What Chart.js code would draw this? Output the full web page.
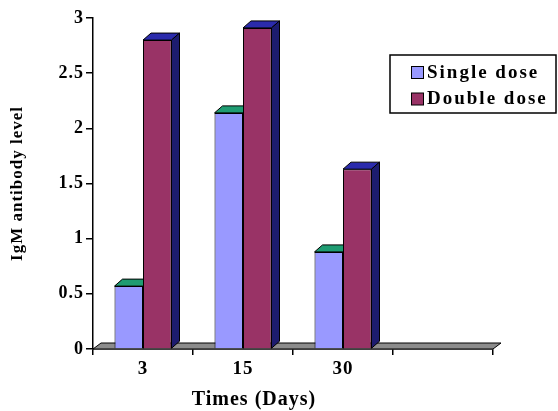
<!DOCTYPE html>
<html>
<head>
<meta charset="utf-8">
<script src="https://cdn.jsdelivr.net/npm/chart.js@4/dist/chart.umd.min.js"></script>
<style>
  html, body { margin: 0; padding: 0; background: #fff; }
  #wrap { width: 558px; height: 411px; }
</style>
</head>
<body>
<div id="wrap"><canvas id="myChart" width="558" height="411"></canvas></div>
<script>
// data
var days        = ['3', '15', '30', ''];
var singleDose  = [0.57, 2.14, 0.88, null];
var doubleDose  = [2.8, 2.91, 1.63, null];
var seriesNames = ['Single dose', 'Double dose'];
var xTitle      = 'Times (Days)';
var yTitle      = 'IgM antibody level';

var serif = '"Liberation Serif", "Times New Roman", serif';

// 3D look: offset of the back faces
var DX = 8;
var DY = -7;

var faceColors = [
    { top: '#1f9c72', side: '#6a6ad0' },
    { top: '#2b2bac', side: '#1c1c6e' }
];

function poly(ctx, pts, fill) {
    ctx.beginPath();
    ctx.moveTo(pts[0][0], pts[0][1]);
    for (var i = 1; i < pts.length; i++) ctx.lineTo(pts[i][0], pts[i][1]);
    ctx.closePath();
    ctx.fillStyle = fill;
    ctx.fill();
    ctx.stroke();
}

var depthPlugin = {
    id: 'depth',
    beforeDraw: function(chart) {
        chart.ctx.letterSpacing = '1px';
    },
    beforeDatasetsDraw: function(chart) {
        var ctx = chart.ctx;
        var area = chart.chartArea;
        ctx.save();
        ctx.strokeStyle = '#000';
        ctx.lineWidth = 1;

        // floor
        poly(ctx, [
            [area.left, area.bottom],
            [area.left + DX, area.bottom + DY + 1],
            [area.right + DX, area.bottom + DY + 1],
            [area.right, area.bottom]
        ], '#8c8c8c');

        chart.data.datasets.forEach(function(ds, i) {
            var meta = chart.getDatasetMeta(i);
            meta.data.forEach(function(bar, j) {
                if (ds.data[j] == null) return;
                var l = bar.x - bar.width / 2;
                var r = bar.x + bar.width / 2;
                var t = bar.y;
                var b = bar.base;
                poly(ctx, [[l, t], [l + DX, t + DY], [r + DX, t + DY], [r, t]], faceColors[i].top);
                poly(ctx, [[r, t], [r + DX, t + DY], [r + DX, b + DY], [r, b]], faceColors[i].side);
            });
        });
        ctx.restore();
    },
    afterDraw: function(chart) {
        var ctx = chart.ctx;
        ctx.save();

        // x title sits left of the axis centre in the original
        ctx.letterSpacing = '1px';
        ctx.fillStyle = '#000';
        ctx.font = 'bold 20px ' + serif;
        ctx.textAlign = 'center';
        ctx.textBaseline = 'middle';
        ctx.fillText(xTitle, 254, 400);

        // legend box inside the plot, like the original
        ctx.letterSpacing = '2px';
        ctx.textAlign = 'left';
        ctx.fillStyle = '#fff';
        ctx.strokeStyle = '#000';
        ctx.lineWidth = 1.5;
        ctx.fillRect(390, 55, 166, 58);
        ctx.strokeRect(390, 55, 166, 58);

        ctx.font = 'bold 19px ' + serif;
        chart.data.datasets.forEach(function(ds, i) {
            var y = 72 + i * 26.5;
            ctx.fillStyle = ds.backgroundColor;
            ctx.lineWidth = 1;
            ctx.fillRect(411.5, y - 5.5, 12, 12);
            ctx.strokeRect(411.5, y - 5.5, 12, 12);
            ctx.fillStyle = '#000';
            ctx.fillText(ds.label, 427, y + 1);
        });
        ctx.restore();
    }
};

var ctx = document.getElementById('myChart').getContext('2d');

var chart = new Chart(ctx, {
    type: 'bar',

    data: {
        labels: days,
        datasets: [{
            label: seriesNames[0],
            backgroundColor: '#9999ff',
            borderColor: '#000',
            borderWidth: 1,
            data: singleDose
        }, {
            label: seriesNames[1],
            backgroundColor: '#993366',
            borderColor: '#000',
            borderWidth: 1,
            data: doubleDose
        }]
    },

    options: {
        responsive: false,
        animation: false,
        barPercentage: 1,
        categoryPercentage: 0.57,
        layout: { padding: { top: 18, right: 65, left: 0, bottom: 0 } },
        plugins: {
            legend: { display: false },
            tooltip: { enabled: false }
        },
        scales: {
            x: {
                afterFit: function(scale) { scale.height = 62; },
                grid: {
                    offset: true,
                    drawOnChartArea: false,
                    tickLength: 6,
                    color: '#000',
                    lineWidth: 1.5
                },
                border: { display: true, color: '#000', width: 1.5 },
                ticks: {
                    color: '#000',
                    padding: 3,
                    font: { family: serif, size: 19, weight: 'bold' }
                }
            },
            y: {
                min: 0,
                max: 3,
                afterFit: function(scale) { scale.width = 93; },
                grid: {
                    drawOnChartArea: false,
                    tickLength: 7,
                    color: '#000',
                    lineWidth: 1.5
                },
                border: { display: true, color: '#000', width: 1.5 },
                ticks: {
                    stepSize: 0.5,
                    color: '#000',
                    padding: 2,
                    callback: function(v) { return String(v); },
                    font: { family: serif, size: 18, weight: 'bold' }
                },
                title: {
                    display: true,
                    text: yTitle,
                    color: '#000',
                    padding: { top: 7, bottom: 0 },
                    font: { family: serif, size: 17, weight: 'bold' }
                }
            }
        }
    },

    plugins: [depthPlugin]
});
</script>
</body>
</html>
